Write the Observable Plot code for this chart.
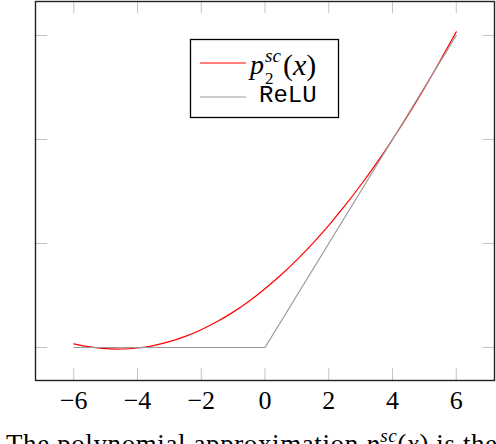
<!DOCTYPE html>
<html>
<head>
<meta charset="utf-8">
<script src="https://cdn.jsdelivr.net/npm/d3@7"></script>
<script src="https://cdn.jsdelivr.net/npm/@observablehq/plot@0.6"></script>
<style>
  html, body { margin: 0; padding: 0; background: white; }
  #wrap { position: relative; width: 496px; height: 444px; overflow: hidden; }
  #overlay { position: absolute; left: 0; top: 0; pointer-events: none; }
</style>
</head>
<body>
<div id="wrap"></div>
<script>
// ---- data ----
const xTicks = [-6, -4, -2, 0, 2, 4, 6];
const yTicks = [0, 2, 4, 6];
const p2X = [-6, -5.5, -5, -4.5, -4, -3.5, -3, -2.5, -2, -1.5, -1, -0.5, 0, 0.5, 1, 1.5, 2, 2.5, 3, 3.5, 4, 4.5, 5, 5.5, 6];
const p2Y = [0.07, 0.01, -0.023, -0.029, -0.01, 0.037, 0.112, 0.213, 0.342, 0.498, 0.68, 0.89, 1.13, 1.395, 1.686, 2.004, 2.35, 2.722, 3.12, 3.546, 4.0, 4.48, 4.987, 5.52, 6.07];
const reluX = [-6, 0, 6];
const reluY = [0, 0, 6];
const seriesNames = ["p2sc(x)", "ReLU"];
const caption = "The polynomial approximation";

const p2Data = p2X.map((x, i) => ({x, y: p2Y[i]}));
const reluData = reluX.map((x, i) => ({x, y: reluY[i]}));

const W = 496, H = 422;
const mL = 35, mR = 2, mT = 1, mB = 42;
const fw = W - mL - mR, fh = H - mT - mB;
const tickLen = 12;
const tickColor = "#c4c4c4";
const serif = "Liberation Serif, Times New Roman, Tinos, DejaVu Serif, serif";

const chart = Plot.plot({
  width: W, height: H,
  marginLeft: mL, marginRight: mR, marginTop: mT, marginBottom: mB,
  x: {domain: [-7.2, 7.2]},
  y: {domain: [-0.635, 6.654], axis: null},
  style: {fontFamily: serif, background: "white", color: "black"},
  marks: [
    Plot.ruleX(xTicks, {stroke: tickColor, strokeWidth: 1, insetTop: fh - tickLen}),
    Plot.ruleX(xTicks, {stroke: tickColor, strokeWidth: 1, insetBottom: fh - tickLen}),
    Plot.ruleY(yTicks, {stroke: tickColor, strokeWidth: 1, insetRight: fw - tickLen}),
    Plot.ruleY(yTicks, {stroke: tickColor, strokeWidth: 1, insetLeft: fw - tickLen}),
    Plot.line(p2Data, {x: "x", y: "y", stroke: "#ff0000", strokeWidth: 1.2, curve: "natural"}),
    Plot.line(reluData, {x: "x", y: "y", stroke: "#999999", strokeWidth: 1.2}),
    Plot.frame({stroke: "#222", strokeWidth: 1.4}),
    Plot.axisX(xTicks, {tickSize: 0, tickPadding: 10, fontSize: 26, fill: "black", label: null, fontFamily: serif})
  ]
});

const wrap = document.getElementById("wrap");
wrap.appendChild(chart);

// ---- legend + caption overlay ----
const ov = d3.create("svg").attr("id", "overlay").attr("width", 496).attr("height", 444)
  .style("font-family", serif);
const lg = ov.append("g");
lg.append("rect").attr("x", 190.5).attr("y", 39.5).attr("width", 148).attr("height", 78)
  .attr("fill", "white").attr("stroke", "black").attr("stroke-width", 1.3);
lg.append("line").attr("x1", 200).attr("x2", 246).attr("y1", 63).attr("y2", 63)
  .attr("stroke", "#ff0000").attr("stroke-width", 1.2);
lg.append("line").attr("x1", 200).attr("x2", 246).attr("y1", 97).attr("y2", 97)
  .attr("stroke", "#999999").attr("stroke-width", 1.2);
lg.append("text").attr("x", 250).attr("y", 74).style("font-size", "28px")
  .style("font-style", "italic").text("p");
lg.append("text").attr("x", 265).attr("y", 62).style("font-size", "19px")
  .style("font-style", "italic").text("sc");
lg.append("text").attr("x", 265).attr("y", 84).style("font-size", "17px")
  .text("2");
const px = lg.append("text").attr("x", 283).attr("y", 75).style("font-size", "30px");
px.append("tspan").text("(");
px.append("tspan").style("font-style", "italic").text("x");
px.append("tspan").text(")");
lg.append("text").attr("x", 259).attr("y", 102)
  .style("font-family", "Liberation Mono, Courier New, DejaVu Sans Mono, monospace")
  .style("font-size", "24px").text(seriesNames[1]);

// caption (cut off at the bottom like the reference)
const cap = ov.append("text").attr("x", 6).attr("y", 453).style("font-size", "27px")
  .attr("letter-spacing", 0.6);
cap.append("tspan").text(caption + " ");
cap.append("tspan").style("font-style", "italic").text("p");
cap.append("tspan").style("font-style", "italic").style("font-size", "19px").attr("dy", -11).text("sc");
cap.append("tspan").attr("dy", 11).text("(");
cap.append("tspan").style("font-style", "italic").text("x");
cap.append("tspan").text(") is the");

wrap.appendChild(ov.node());
</script>
</body>
</html>
